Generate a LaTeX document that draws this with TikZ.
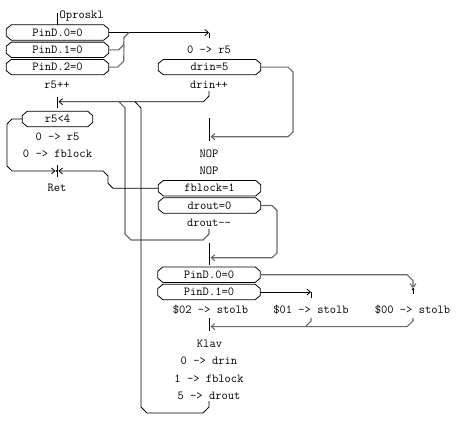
\documentclass[tikz,border=0pt]{standalone}
\usetikzlibrary{arrows.meta}
\definecolor{grayline}{RGB}{105,105,105}
\tikzset{
  txt/.style={font=\ttfamily\fontsize{12.2}{13}\selectfont, inner sep=0pt, text height=7.4pt, text depth=0pt},
  lbl/.style={txt},
  hexbox/.style={txt, rectangle, minimum width=102pt, minimum height=15pt},
  blk/.style={line width=0.8pt, black},
  gry/.style={line width=1.1pt, grayline},
  arr/.style={-{Straight Barb[length=3.5pt,width=6pt]}},
  jdot/.style={circle, fill=black, inner sep=0pt, minimum size=2.6pt}
}
\newcommand{\octo}[1]{%
  \draw[blk] ([xshift=5pt]#1.north west) -- ([xshift=-5pt]#1.north east)
    -- ([yshift=3.5pt]#1.east) -- ([yshift=-3.5pt]#1.east)
    -- ([xshift=-5pt]#1.south east) -- ([xshift=5pt]#1.south west)
    -- ([yshift=-3.5pt]#1.west) -- ([yshift=3.5pt]#1.west) -- cycle;}
\begin{document}
\begin{tikzpicture}[x=1pt,y=-1pt]
\useasboundingbox (0,0) rectangle (461,424);
% ---------- column A ----------
\coordinate (st) at (57,13);
\node[lbl, anchor=west] (op) at (59.5,15.2) {Oproskl};
\node[hexbox] (p0) at (57.5,32.5) {PinD.0=0};
\node[hexbox] (p1) at (57.5,49.8) {PinD.1=0};
\node[hexbox] (p2) at (57.5,67.1) {PinD.2=0};
\node[lbl] (r5pp) at (57,84.4) {r5++};
\coordinate (jA1) at (58.5,101.7);
\node[hexbox, minimum width=70pt] (lt) at (57.5,119) {r5<4};
\node[lbl] (a1) at (57.5,136.3) {0 -> r5};
\node[lbl] (a2) at (57.5,153.6) {0 -> fblock};
\coordinate (ret) at (57,170.9);
\coordinate (retL) at (55.5,170.9);
\coordinate (retR) at (58.5,170.9);
\node[lbl] (rett) at (57,188.2) {Ret};
% ---------- column B ----------
\coordinate (jB0) at (209,32.5);
\node[lbl] (b1) at (209,49.8) {0 -> r5};
\node[hexbox] (dr5) at (209.5,67.1) {drin=5};
\node[lbl] (drpp) at (209,84.4) {drin++};
\coordinate (jB1) at (210.5,136.7);
\node[lbl] (nop1) at (209,153.6) {NOP};
\node[lbl] (nop2) at (209,170.9) {NOP};
\node[hexbox] (fb) at (209.5,188.2) {fblock=1};
\node[hexbox] (do) at (209.5,205.5) {drout=0};
\node[lbl] (dmm) at (209,222.8) {drout-{}-};
\coordinate (jB2) at (210.5,257.7);
\node[hexbox] (q0) at (209,274.7) {PinD.0=0};
\node[hexbox] (q1) at (209,292) {PinD.1=0};
\node[lbl] (s2) at (210.5,309.3) {\$02 -> stolb};
\coordinate (jB3) at (210.5,326.6);
\node[lbl] (klav) at (209.5,343.9) {Klav};
\node[lbl] (k1) at (209,361.2) {0 -> drin};
\node[lbl] (k2) at (209,378.5) {1 -> fblock};
\node[lbl] (k3) at (209,395.8) {5 -> drout};
% ---------- columns C, D ----------
\coordinate (jC) at (311,292);
\node[lbl] (s1) at (311,309.3) {\$01 -> stolb};
\coordinate (jD) at (413,288);
\node[lbl] (s0) at (412.5,309.3) {\$00 -> stolb};
% ---------- box outlines ----------
\octo{p0}\octo{p1}\octo{p2}\octo{lt}\octo{dr5}\octo{fb}\octo{do}\octo{q0}\octo{q1}
% ---------- connectors ----------
\draw[blk] (st) -- (st |- p0.north);
\draw[blk, arr] (p0.east) -- (jB0);
\draw[blk] (jB0) -- ++(0,5.5);
\draw[gry] (p1.east) -- ++(10,0) -- ++(5,-5) -- (124,37.5) -- (129,32.5);
\draw[gry] (p2.east) -- ++(9,0) -- ++(6,-6) -- (124,44.8);
% drin++ back to r5++
\draw[blk, arr] (209,91) -- (209,96) -- (203.5,101.7) -- (jA1);
\draw[blk] (57,97) -- (57,107.5);
% drout-- loop (x=125)
\draw[gry] (209,229) -- (209,234) -- (203,240) -- (131,240) -- (125,234) -- (125,108) -- (119,101.7);
% Klav loop (x=141)
\draw[blk] (209,401) -- (209,407) -- (203,413) -- (147,413) -- (141,407) -- (141,108) -- (135,101.7);
% r5<4 false -> Ret
\draw[blk, arr] (lt.west) -- (12,119) -- (7,124) -- (7,166) -- (12,170.9) -- (retL);
% fblock=1 -> Ret
\draw[blk, arr] (fb.west) -- (113,188.2) -- (108,183.2) -- (108,176) -- (103,170.9) -- (retR);
\draw[blk] (57,165) -- (57,177);
\node[jdot] at (ret) {};
% drin=5 loop
\draw[gry, arr] (dr5.east) -- (288,67.1) -- (293,72) -- (293,132) -- (288,136.7) -- (jB1);
\draw[blk] (209,118) -- (209,141);
% drout=0 loop
\draw[gry, arr] (do.east) -- (272,205.5) -- (277,210.5) -- (277,253) -- (272,257.7) -- (jB2);
\draw[blk] (209,243) -- (209,265);
% PinD.0=0 (lower) -> $00
\draw[gry, arr] (q0.east) -- (407,274.7) -- (413,280.7) -- (jD);
\draw[blk] (jD) -- (413,293.5);
\node[jdot] at (413,289.3) {};
% PinD.1=0 (lower) -> $01
\draw[blk, arr] (q1.east) -- (jC);
\draw[blk] (311,292) -- (311,297.5);
% $00 / $01 -> Klav
\draw[gry, arr] (413,318) -- (413,321) -- (407,326.6) -- (jB3);
\draw[gry] (311,318) -- (311,321) -- (305.5,326.6);
\draw[blk] (209,318) -- (209,331);
\end{tikzpicture}
\end{document}
